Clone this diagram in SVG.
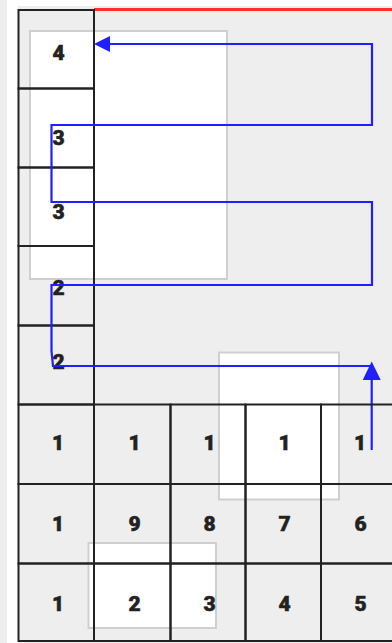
<svg xmlns="http://www.w3.org/2000/svg" width="392" height="643" viewBox="0 0 392 643">
<style>
.cell{fill:none;stroke:#222;stroke-width:2}
.hl{fill:#fff;stroke:#cfcfcf;stroke-width:2}
.t{font-family:Roboto,"Liberation Sans",sans-serif;font-weight:900;font-size:21px;fill:#222;stroke:#222;stroke-width:0.5;text-anchor:middle}
.c{fill:none;stroke:#1f1fff;stroke-width:2.2}
.ah{fill:#1f1fff}
</style>
<rect x="0" y="0" width="392" height="643" fill="#eeeeee"/>
<rect x="7" y="0" width="385" height="643" fill="#ffffff"/>
<rect x="18" y="6" width="374" height="637" fill="#eeeeee"/>
<g id="highlights">
<rect class="hl" x="30" y="31" width="197" height="248"/>
<rect class="hl" x="219" y="352.5" width="120" height="147"/>
<rect class="hl" x="88.5" y="543" width="127.5" height="85"/>
</g>
<line x1="94" y1="9.5" x2="392" y2="9.5" stroke="#ff2d2d" stroke-width="3"/>
<g id="stack">
<g id="s4"><rect class="cell" x="18.5" y="10" width="75.5" height="78.5"/><text class="t" x="58.5" y="60">4</text></g>
<g id="s3a"><rect class="cell" x="18.5" y="88.5" width="75.5" height="79"/><text class="t" x="58.5" y="145">3</text></g>
<g id="s3b"><rect class="cell" x="18.5" y="167.5" width="75.5" height="78.5"/><text class="t" x="58.5" y="219">3</text></g>
<g id="s2a"><rect class="cell" x="18.5" y="246" width="75.5" height="79.5"/><text class="t" x="58.5" y="295">2</text></g>
<g id="s2b"><rect class="cell" x="18.5" y="325.5" width="75.5" height="79"/><text class="t" x="58.5" y="369">2</text></g>
</g>
<g id="connectors">
<path class="c" d="M371.7 366 H53 L51.5 351 V285 H372 V202 H51.5 V125 H372 V44 H106"/>
<path class="ah" d="M94 44 L110 36 L110 52 Z"/>
<path class="c" d="M371.7 450 V378"/>
<path class="ah" d="M371.7 361.5 L380.7 380 L362.7 380 Z"/>
</g>
<g id="grid">
<g id="r1c1"><rect class="cell" x="18.5" y="404.5" width="75.5" height="79.5"/><text class="t" x="58" y="450">1</text></g>
<g id="r1c2"><rect class="cell" x="94" y="404.5" width="76.5" height="79.5"/><text class="t" x="134.5" y="450">1</text></g>
<g id="r1c3"><rect class="cell" x="170.5" y="404.5" width="75" height="79.5"/><text class="t" x="209.5" y="450">1</text></g>
<g id="r1c4"><rect class="cell" x="245.5" y="404.5" width="75.5" height="79.5"/><text class="t" x="284.5" y="450">1</text></g>
<g id="r1c5"><rect class="cell" x="321" y="404.5" width="75.5" height="79.5"/><text class="t" x="360" y="450">1</text></g>
<g id="r2c1"><rect class="cell" x="18.5" y="484" width="75.5" height="79.5"/><text class="t" x="58" y="531">1</text></g>
<g id="r2c2"><rect class="cell" x="94" y="484" width="76.5" height="79.5"/><text class="t" x="134.5" y="531">9</text></g>
<g id="r2c3"><rect class="cell" x="170.5" y="484" width="75" height="79.5"/><text class="t" x="209.5" y="531">8</text></g>
<g id="r2c4"><rect class="cell" x="245.5" y="484" width="75.5" height="79.5"/><text class="t" x="284.5" y="531">7</text></g>
<g id="r2c5"><rect class="cell" x="321" y="484" width="75.5" height="79.5"/><text class="t" x="360.5" y="531">6</text></g>
<g id="r3c1"><rect class="cell" x="18.5" y="563.5" width="75.5" height="77.5"/><text class="t" x="58" y="611">1</text></g>
<g id="r3c2"><rect class="cell" x="94" y="563.5" width="76.5" height="77.5"/><text class="t" x="134.5" y="611">2</text></g>
<g id="r3c3"><rect class="cell" x="170.5" y="563.5" width="75" height="77.5"/><text class="t" x="209.5" y="611">3</text></g>
<g id="r3c4"><rect class="cell" x="245.5" y="563.5" width="75.5" height="77.5"/><text class="t" x="284.5" y="611">4</text></g>
<g id="r3c5"><rect class="cell" x="321" y="563.5" width="75.5" height="77.5"/><text class="t" x="360.5" y="611">5</text></g>
</g>
</svg>
